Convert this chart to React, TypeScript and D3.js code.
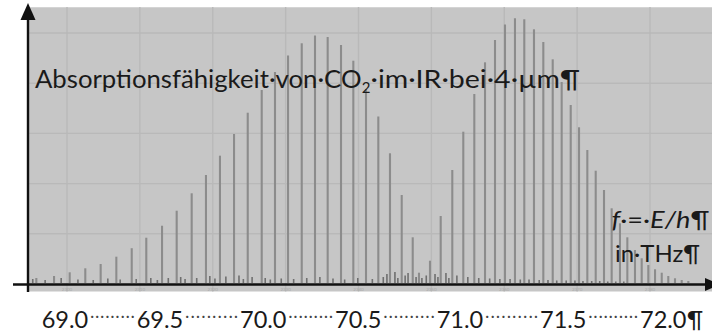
import React from "react";
import * as d3 from "d3";

// Main absorption lines (wavenumber in cm^-1, relative intensity in grid units)
const pBranchNu = [2295.79, 2298.22, 2300.37, 2302.51, 2304.62, 2306.77, 2308.88, 2310.88, 2313.04, 2315.05, 2317.11, 2319.07, 2320.99, 2322.92, 2324.8, 2326.72, 2328.54, 2330.33, 2332.21, 2334.03, 2335.77, 2337.6, 2339.29, 2341.03, 2342.72, 2344.32, 2345.93, 2347.44, 2348.3];
const pBranchI = [0.12, 0.159, 0.233, 0.313, 0.398, 0.544, 0.713, 0.922, 1.161, 1.46, 1.807, 2.171, 2.556, 2.988, 3.412, 3.865, 4.223, 4.552, 4.795, 4.95, 4.92, 4.761, 4.448, 3.884, 3.337, 2.604, 1.773, 0.93, 0.225];

const rBranchNu = [2349.81, 2351.28, 2352.87, 2354.38, 2355.89, 2357.36, 2358.73, 2360.1, 2361.47, 2362.75, 2364.08, 2365.36, 2366.65, 2367.88, 2369.12, 2370.26, 2371.4, 2372.55, 2373.69, 2374.74, 2375.88, 2376.89, 2377.94, 2378.86, 2379.77, 2380.69, 2381.61, 2382.51, 2383.43, 2384.35, 2385.26];
const rBranchI = [0.464, 1.355, 2.271, 3.034, 3.785, 4.416, 4.861, 5.169, 5.293, 5.273, 5.074, 4.821, 4.476, 4.024, 3.566, 3.122, 2.669, 2.257, 1.873, 1.508, 1.209, 0.93, 0.677, 0.512, 0.378, 0.293, 0.225, 0.159, 0.114, 0.08, 0.06];

// Weak background lines (hot bands / isotopes)
const minorNu = [2295.3, 2297.0, 2299.2, 2301.5, 2303.6, 2305.6, 2307.3, 2309.5, 2311.5, 2312.4, 2313.9, 2315.6, 2316.2, 2317.8, 2319.6, 2320.3, 2321.8, 2323.6, 2324.2, 2325.4, 2327.2, 2327.9, 2329.4, 2331.1, 2332.9, 2334.7, 2336.5, 2338.1, 2339.9, 2341.9, 2343.4, 2343.9, 2345.0, 2345.4, 2346.4, 2346.8, 2347.9, 2348.7, 2349.3, 2350.5, 2350.9, 2352.0, 2352.4, 2353.5, 2355.0, 2356.5, 2358.0, 2359.4, 2360.8, 2362.2, 2363.4, 2364.8, 2366.0, 2367.2, 2368.5, 2369.7, 2370.8, 2372.0, 2373.1, 2374.2, 2375.3, 2376.4];
const minorI = [0.08, 0.06, 0.1, 0.07, 0.06, 0.09, 0.07, 0.08, 0.1, 0.06, 0.1, 0.12, 0.08, 0.1, 0.14, 0.09, 0.13, 0.15, 0.08, 0.12, 0.1, 0.07, 0.09, 0.08, 0.1, 0.12, 0.09, 0.07, 0.1, 0.08, 0.12, 0.18, 0.22, 0.1, 0.15, 0.2, 0.12, 0.1, 0.15, 0.18, 0.12, 0.2, 0.1, 0.15, 0.12, 0.1, 0.09, 0.08, 0.08, 0.07, 0.07, 0.06, 0.06, 0.05, 0.05, 0.05, 0.04, 0.04, 0.04, 0.03, 0.03, 0.03];

const gridNu = [2300, 2310, 2320, 2330, 2340, 2350, 2360, 2370, 2380];
const gridI = [1, 2, 3, 4, 5];

const freqLabels = ["69.0", "69.5", "70.0", "70.5", "71.0", "71.5", "72.0"];
const freqLabelStart = [41.7, 136.7, 240, 335, 436.7, 540, 640];

const titleA = "Absorptionsfähigkeit·von·CO";
const titleSub = "2";
const titleB = "·im·IR·bei·4·µm¶";

const FONT = "Lato, 'Open Sans', sans-serif";

export default function App() {
  const W = 712;
  const H = 334;
  const x = d3.scaleLinear().domain([2300, 2380]).range([67, 650]);
  const y = d3.scaleLinear().domain([0, 5]).range([284, 33]);
  const plotLeft = 28;
  const plotTop = 7;
  const plotBottom = 291.5;

  const lw = 46.5;
  const gaps = freqLabelStart.slice(0, -1).map((s, i) => ({
    x0: s + lw + 2,
    x1: freqLabelStart[i + 1] - 2,
  }));

  return (
    <div style={{ position: "absolute", left: 0, top: 0 }}>
      <svg width={W} height={H} viewBox={`0 0 ${W} ${H}`} style={{ display: "block" }}>
        <rect x={0} y={0} width={W} height={H} fill="#ffffff" />
        <rect x={plotLeft} y={plotTop} width={W - plotLeft} height={plotBottom - plotTop} fill="#c6c6c6" />
        <line x1={plotLeft} x2={W} y1={plotTop + 0.5} y2={plotTop + 0.5} stroke="#d4d4d4" strokeWidth={1} />
        {gridNu.map((v) => (
          <line key={"gx" + v} x1={x(v)} x2={x(v)} y1={plotTop} y2={plotBottom} stroke="#b9b9b9" strokeWidth={1.4} />
        ))}
        {gridI.map((v) => (
          <line key={"gy" + v} x1={plotLeft} x2={W} y1={y(v)} y2={y(v)} stroke="#b9b9b9" strokeWidth={1.4} />
        ))}
        {gridNu.map((v) => (
          <text key={"tl" + v} x={x(v)} y={290.5} fontSize={4.5} fill="#a9a9a9" textAnchor="middle" fontFamily={FONT}>
            {v}
          </text>
        ))}
        {minorNu.map((v, i) => (
          <line key={"mn" + i} x1={x(v)} x2={x(v)} y1={y(0) - 1} y2={y(minorI[i]) - 1} stroke="#6f6f6f" strokeWidth={1.6} />
        ))}
        {pBranchNu.map((v, i) => (
          <line key={"p" + i} x1={x(v)} x2={x(v)} y1={y(0) - 1} y2={y(pBranchI[i])} stroke="#8c8c8c" strokeWidth={2.1} />
        ))}
        {rBranchNu.map((v, i) => (
          <line key={"r" + i} x1={x(v)} x2={x(v)} y1={y(0) - 1} y2={y(rBranchI[i])} stroke="#8c8c8c" strokeWidth={2.1} />
        ))}

        {/* axes */}
        <line x1={13} x2={707} y1={284.5} y2={284.5} stroke="#111" strokeWidth={2.6} />
        <polygon points="705,278 705,291 720,284.5" fill="#111" />
        <line x1={28} x2={28} y1={18} y2={292} stroke="#111" strokeWidth={2.4} />
        <polygon points="28,3 20.5,20 35.5,20" fill="#111" />

        {/* title */}
        <g fontFamily={FONT} fill="#1a1a1a">
          <text x={35} y={88} fontSize={25.5} textLength={326.5} lengthAdjust="spacingAndGlyphs">
            {titleA}
          </text>
          <text x={361.8} y={93} fontSize={15}>
            {titleSub}
          </text>
          <text x={370.5} y={88} fontSize={25.5} textLength={209.5} lengthAdjust="spacingAndGlyphs">
            {titleB}
          </text>

          <text x={611.5} y={227.5} fontSize={24} textLength={98} lengthAdjust="spacingAndGlyphs">
            <tspan fontStyle="italic">f</tspan>
            <tspan>·=·</tspan>
            <tspan fontStyle="italic">E/h</tspan>
            <tspan>¶</tspan>
          </text>
          <text x={615} y={261.5} fontSize={23.5} textLength={85} lengthAdjust="spacingAndGlyphs">
            in·THz¶
          </text>

          {freqLabels.map((t, i) => (
            <text key={"fl" + t} x={freqLabelStart[i]} y={327.5} fontSize={23} textLength={lw} lengthAdjust="spacingAndGlyphs">
              {t}
            </text>
          ))}
          <text x={freqLabelStart[freqLabelStart.length - 1] + lw + 0.5} y={327.5} fontSize={23}>
            ¶
          </text>
          {gaps.map((g, i) => {
            const n = Math.max(1, Math.round((g.x1 - g.x0) / 5.2));
            return (
              <text key={"ld" + i} x={g.x0} y={321} fontSize={15} fill="#444" textLength={g.x1 - g.x0} lengthAdjust="spacing">
                {"·".repeat(n)}
              </text>
            );
          })}
        </g>
      </svg>
    </div>
  );
}
